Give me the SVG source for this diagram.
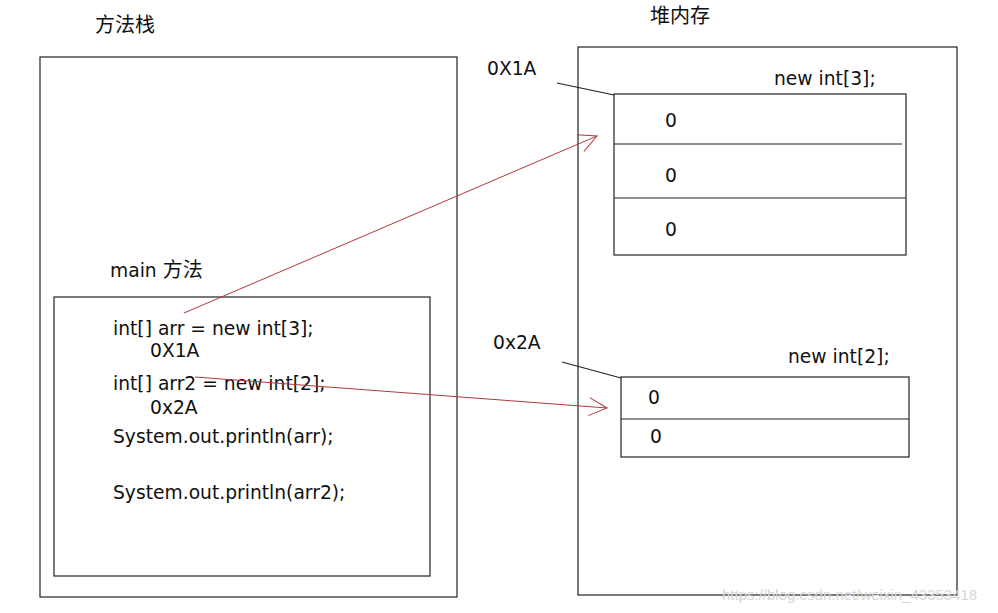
<svg xmlns="http://www.w3.org/2000/svg" width="998" height="613" viewBox="0 0 998 613">
<defs>
<style>
.t{font-family:"DejaVu Sans","Noto Sans CJK SC",sans-serif;font-size:18.7px;fill:#111}
.c{font-family:"Noto Sans CJK SC",sans-serif;font-size:20px;fill:#111}
.box{fill:none;stroke:#222;stroke-width:1.2}
.ln{stroke:#222;stroke-width:1.2;fill:none}
.red{stroke:#b5383c;stroke-width:1;fill:none}
.wm{font-family:"Liberation Sans",sans-serif;font-size:15px;fill:#d6d6d6}
</style>
<marker id="ah" viewBox="0 0 20 20" refX="19" refY="10" markerWidth="20" markerHeight="20" markerUnits="userSpaceOnUse" orient="auto">
<path d="M1,1 L19,10 L1,19" fill="none" stroke="#b5383c" stroke-width="1"/>
</marker>
</defs>
<rect width="998" height="613" fill="#fff"/>
<g id="stack">
<text class="c" x="95" y="32">方法栈</text>
<rect class="box" x="40" y="57" width="417" height="540"/>
</g>
<g id="main">
<text class="t" x="110" y="277">main <tspan class="c">方法</tspan></text>
<rect class="box" x="54" y="297" width="376" height="279"/>
<text class="t" x="113" y="335">int[] arr = new int[3];</text>
<text class="t" x="150" y="357">0X1A</text>
<text class="t" x="113" y="390">int[] arr2 = new int[2];</text>
<text class="t" x="150" y="414">0x2A</text>
<text class="t" x="113" y="443">System.out.println(arr);</text>
<text class="t" x="113" y="499">System.out.println(arr2);</text>
</g>
<g id="heap">
<text class="c" x="650" y="23">堆内存</text>
<rect class="box" x="578" y="47" width="379" height="548"/>
</g>
<g id="arr1">
<text class="t" x="487" y="75">0X1A</text>
<text class="t" x="774" y="85">new int[3];</text>
<rect class="box" x="614" y="94" width="292" height="161"/>
<line class="ln" x1="614" y1="144" x2="902" y2="144"/>
<line class="ln" x1="614" y1="198" x2="906" y2="198"/>
<text class="t" x="665" y="127">0</text>
<text class="t" x="665" y="182">0</text>
<text class="t" x="665" y="236">0</text>
</g>
<g id="arr2">
<text class="t" x="493" y="349">0x2A</text>
<text class="t" x="788" y="363">new int[2];</text>
<rect class="box" x="621" y="377" width="288" height="80"/>
<line class="ln" x1="621" y1="419" x2="909" y2="419"/>
<text class="t" x="648" y="404">0</text>
<text class="t" x="650" y="443">0</text>
</g>
<g id="connectors">
<line class="ln" x1="557" y1="83" x2="614" y2="95"/>
<line class="ln" x1="562" y1="362" x2="621" y2="378"/>
<line class="red" x1="184" y1="313" x2="597" y2="136" marker-end="url(#ah)"/>
<line class="red" x1="195" y1="377" x2="607" y2="408" marker-end="url(#ah)"/>
</g>
<text class="wm" x="722" y="600">https://blog.csdn.net/weixin_43353418</text>
</svg>
